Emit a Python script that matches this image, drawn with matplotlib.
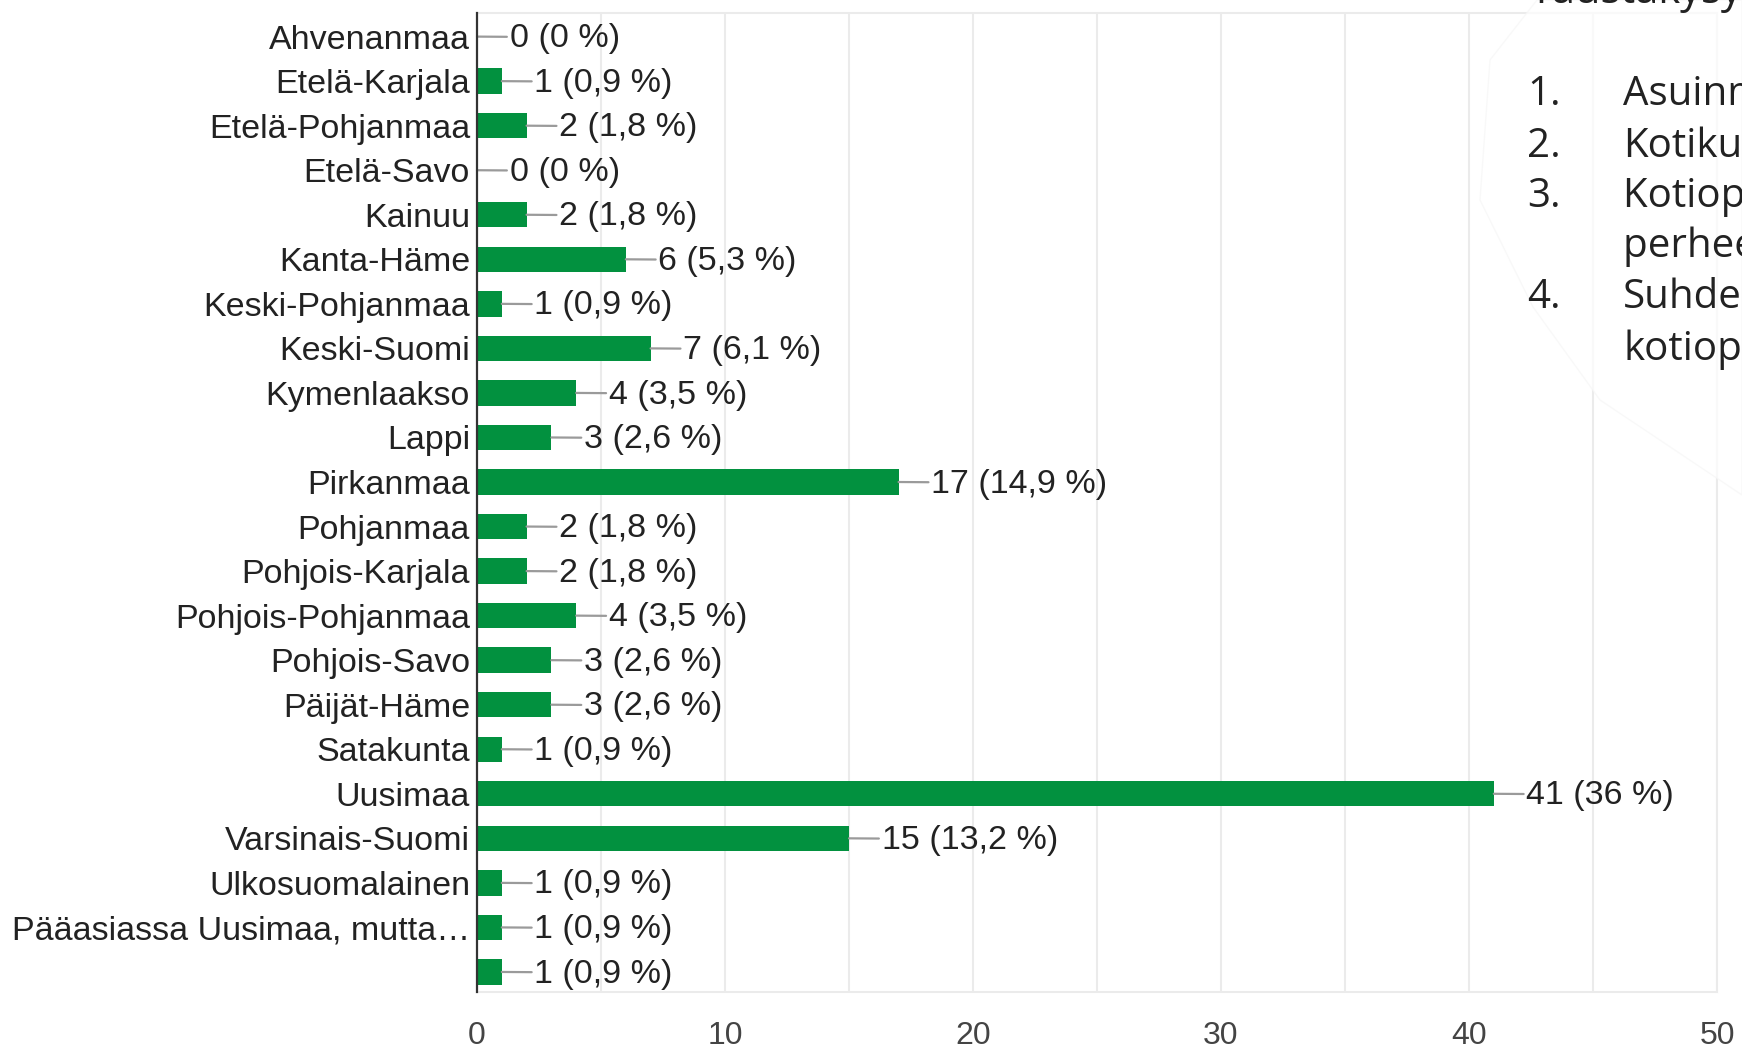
import matplotlib
matplotlib.use("Agg")
import matplotlib.pyplot as plt
from matplotlib.patches import Polygon

categories = ["Ahvenanmaa", "Etelä-Karjala", "Etelä-Pohjanmaa", "Etelä-Savo", "Kainuu",
              "Kanta-Häme", "Keski-Pohjanmaa", "Keski-Suomi", "Kymenlaakso", "Lappi",
              "Pirkanmaa", "Pohjanmaa", "Pohjois-Karjala", "Pohjois-Pohjanmaa", "Pohjois-Savo",
              "Päijät-Häme", "Satakunta", "Uusimaa", "Varsinais-Suomi", "Ulkosuomalainen",
              "Pääasiassa Uusimaa, mutta…", ""]
values = [0, 1, 2, 0, 2, 6, 1, 7, 4, 3, 17, 2, 2, 4, 3, 3, 1, 41, 15, 1, 1, 1]
percents = ["0", "0,9", "1,8", "0", "1,8", "5,3", "0,9", "6,1", "3,5", "2,6", "14,9",
            "1,8", "1,8", "3,5", "2,6", "2,6", "0,9", "36", "13,2", "0,9", "0,9", "0,9"]
xticks = [0, 10, 20, 30, 40, 50]
overlay_nums = ["1.", "2.", "3.", "", "4.", ""]
overlay_lines = ["Asuinmaakunta", "Kotikunta", "Kotiopetuksessa olevat", "perheen lapset",
                 "Suhde", "kotiopetukseen"]

W, H = 1742, 1052
fig = plt.figure(figsize=(W / 100, H / 100), dpi=100)
x0, x1, y_top, y_bot = 477, 1717, 13, 992
ax = fig.add_axes([x0 / W, 1 - y_bot / H, (x1 - x0) / W, (y_bot - y_top) / H])

FONT = "Liberation Sans"
green = "#02913f"
y = list(range(len(categories)))
ax.barh(y, values, height=0.57, color=green, zorder=3)

for yi, v, p in zip(y, values, percents):
    ax.annotate(f"{v} ({p} %)", xy=(v, yi), xytext=(23.5, -1.5), textcoords="offset points",
                ha="left", va="center", fontsize=24.5, family=FONT, color="#222222",
                arrowprops=dict(arrowstyle="-", color="#9a9a9a", lw=1.6,
                                shrinkA=0, shrinkB=0, relpos=(0, 0.56)), zorder=4)

ax.set_xlim(0, 50)
ax.set_ylim(len(categories) - 1 + 0.45, -0.53)
ax.set_yticks(y)
ax.set_yticklabels(categories, family=FONT, fontsize=24.5, color="#222222")
ax.set_xticks(xticks)
ax.set_xticklabels([str(t) for t in xticks], family=FONT, fontsize=23, color="#444444")
ax.tick_params(axis="y", length=0, pad=5)
ax.tick_params(axis="x", length=0, pad=21)
for gx in range(5, 51, 5):
    ax.axvline(gx, color="#ebebeb", lw=1.5, zorder=1)
for s in ["top", "right", "bottom"]:
    ax.spines[s].set_color("#ebebeb")
    ax.spines[s].set_linewidth(1.5)
ax.spines["left"].set_color("#333333")
ax.spines["left"].set_linewidth(1.6)
ax.spines["left"].set_zorder(5)

# faint overlay of another slide at top right
pts = [(1537, 0), (1490, 60), (1480, 200), (1533, 307), (1600, 400), (1742, 495), (1742, 0)]
poly = Polygon([(px / W, 1 - py / H) for px, py in pts], closed=True,
               transform=fig.transFigure, facecolor="white", edgecolor="#f6f6f6",
               alpha=0.7, lw=1, zorder=10)
fig.patches.append(poly)

fig.text(1530 / W, 1 - 3 / H, "Taustakysymykset", family="Open Sans", fontsize=30,
         color="#222222", ha="left", va="baseline", zorder=11)
baselines = [105, 157, 207, 257, 308, 360]
for num, line, b in zip(overlay_nums, overlay_lines, baselines):
    if num:
        fig.text(1527 / W, 1 - b / H, num, family="Open Sans", fontsize=29,
                 color="#222222", ha="left", va="baseline", zorder=11)
    fig.text(1623 / W, 1 - b / H, line, family="Open Sans", fontsize=29,
             color="#222222", ha="left", va="baseline", zorder=11)

fig.savefig("out.png", dpi=100)
